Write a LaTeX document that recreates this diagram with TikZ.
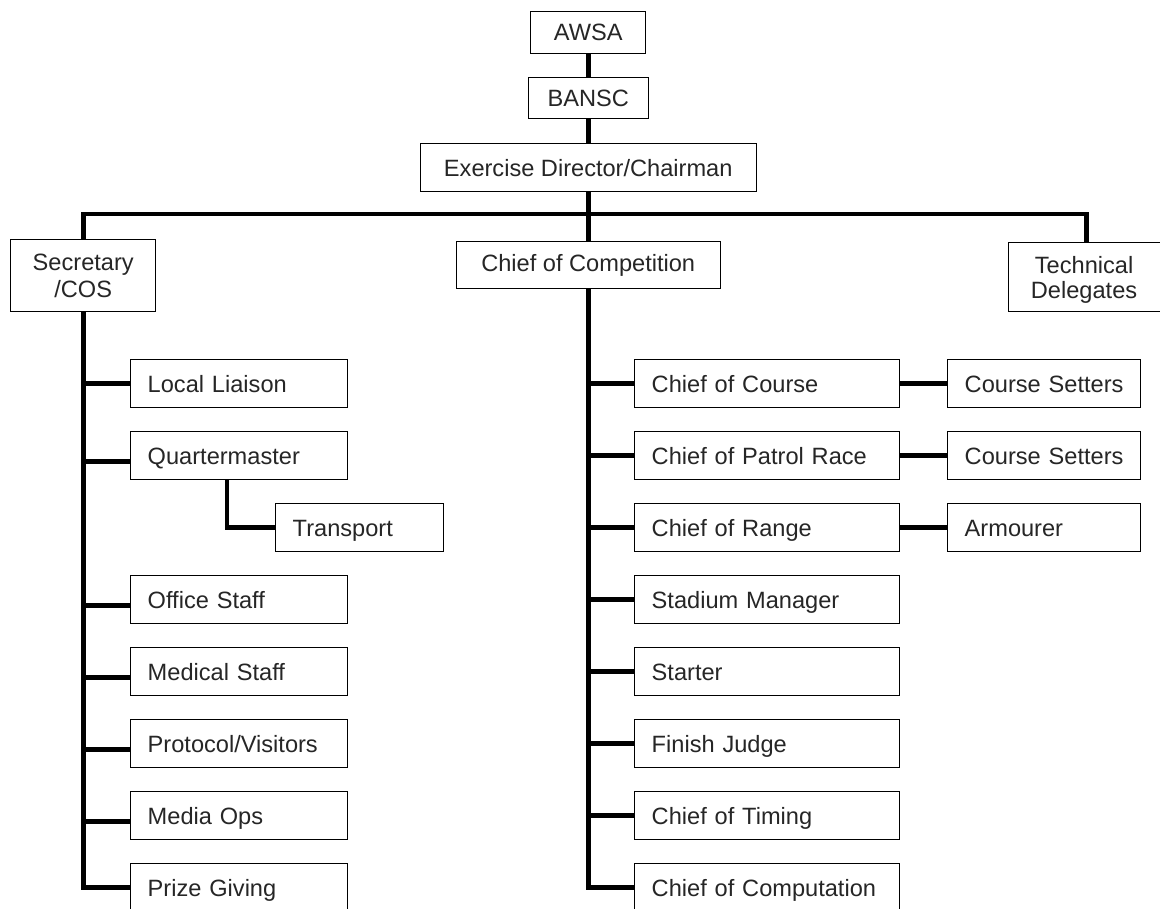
\documentclass[tikz,border=0pt]{standalone}
\usepackage{fontspec}
\setmainfont{Liberation Sans}
\begin{document}
\begin{tikzpicture}[x=0.75pt,y=-0.75pt,
  box/.style={draw=black, line width=1.1pt, anchor=north west, fill=white,
    inner ysep=0pt, text=black!85, font=\fontsize{17.7}{20}\selectfont},
  cbox/.style={box, inner xsep=0pt, align=center},
  lbox/.style={box, inner xsep=12.75pt, align=left, text height=13pt, text depth=0pt},
  conn/.style={line width=3.4pt, line join=miter}]
\clip (0,0) rectangle (1160,909);
\fill[white] (0,0) rectangle (1160,909);
\newcommand\lbx[5]{\node[lbox, text width=(#4-34)*0.75pt, minimum height=36pt] (#1) at (#2,#3) {#5};}
% top boxes
\node[cbox, minimum width=115*0.75pt, minimum height=42*0.75pt] (awsa) at (530,11) {AWSA};
\node[cbox, minimum width=120*0.75pt, minimum height=41*0.75pt] (bansc) at (527.5,77) {BANSC};
\node[cbox, minimum width=336*0.75pt, minimum height=48*0.75pt] (ed) at (419.5,143) {Exercise Director/Chairman};
\node[cbox, minimum width=145*0.75pt, minimum height=72*0.75pt] (sec) at (10,239) {Secretary\\/COS};
\node[cbox, minimum width=264*0.75pt, minimum height=47*0.75pt] (coc) at (455.5,241) {Chief of Competition};
\node[cbox, minimum width=156*0.75pt, minimum height=69*0.75pt] (td) at (1008,242) {};
\begin{scope}
\clip (1009,243) rectangle (1160,304);
\node[align=center, inner sep=0pt, text=black!85, font=\fontsize{17.7}{19}\selectfont] (tdt) at ([xshift=-2pt,yshift=-2pt]td.center) {Technical\\Delegates};
\end{scope}
% left column
\lbx{ll}{130}{359}{217}{Local Liaison}
\lbx{qm}{130}{431}{217}{Quartermaster}
\lbx{tr}{275}{503}{168}{Transport}
\lbx{os}{130}{575}{217}{Office Staff}
\lbx{ms}{130}{647}{217}{Medical Staff}
\lbx{pv}{130}{719}{217}{Protocol/Visitors}
\lbx{mo}{130}{791}{217}{Media Ops}
\lbx{pg}{130}{863}{217}{Prize Giving}
% right column
\lbx{cc}{634}{359}{265}{Chief of Course}
\lbx{cp}{634}{431}{265}{Chief of Patrol Race}
\lbx{cr}{634}{503}{265}{Chief of Range}
\lbx{sm}{634}{575}{265}{Stadium Manager}
\lbx{st}{634}{647}{265}{Starter}
\lbx{fj}{634}{719}{265}{Finish Judge}
\lbx{ct}{634}{791}{265}{Chief of Timing}
\lbx{cm}{634}{863}{265}{Chief of Computation}
\lbx{cs1}{947}{359}{193}{Course Setters}
\lbx{cs2}{947}{431}{193}{Course Setters}
\lbx{arm}{947}{503}{193}{Armourer}
% connectors
\coordinate (bar) at (587.5,214);
\draw[conn] (awsa.south) -- (bansc.north);
\draw[conn] (bansc.south) -- (ed.north);
\draw[conn] (ed.south) -- (coc.north);
\draw[conn] (sec.north) |- (bar) -| (td.north);
% left spine
\draw[conn] (sec.south) |- (pg.west);
\draw[conn] (sec.south |- ll.west) -- (ll.west);
\coordinate (qmc) at ([yshift=-4.5pt]qm.west);
\coordinate (osc) at ([yshift=-4.5pt]os.west);
\coordinate (msc) at ([yshift=-4.5pt]ms.west);
\coordinate (pvc) at ([yshift=-4.5pt]pv.west);
\coordinate (moc) at ([yshift=-4.5pt]mo.west);
\draw[conn] (sec.south |- qmc) -- (qmc);
\draw[conn] (sec.south |- osc) -- (osc);
\draw[conn] (sec.south |- msc) -- (msc);
\draw[conn] (sec.south |- pvc) -- (pvc);
\draw[conn] (sec.south |- moc) -- (moc);
\coordinate (qmj) at (227,0);
\draw[conn] (qm.south -| qmj) |- (tr.west);
% right spine
\draw[conn] (coc.south) |- (cm.west);
\foreach \n in {cc,cp,cr,sm,st,fj,ct}
  \draw[conn] (coc.south |- \n.west) -- (\n.west);
\draw[conn] (cc.east) -- (cs1.west);
\draw[conn] (cp.east) -- (cs2.west);
\draw[conn] (cr.east) -- (arm.west);
\end{tikzpicture}
\end{document}
